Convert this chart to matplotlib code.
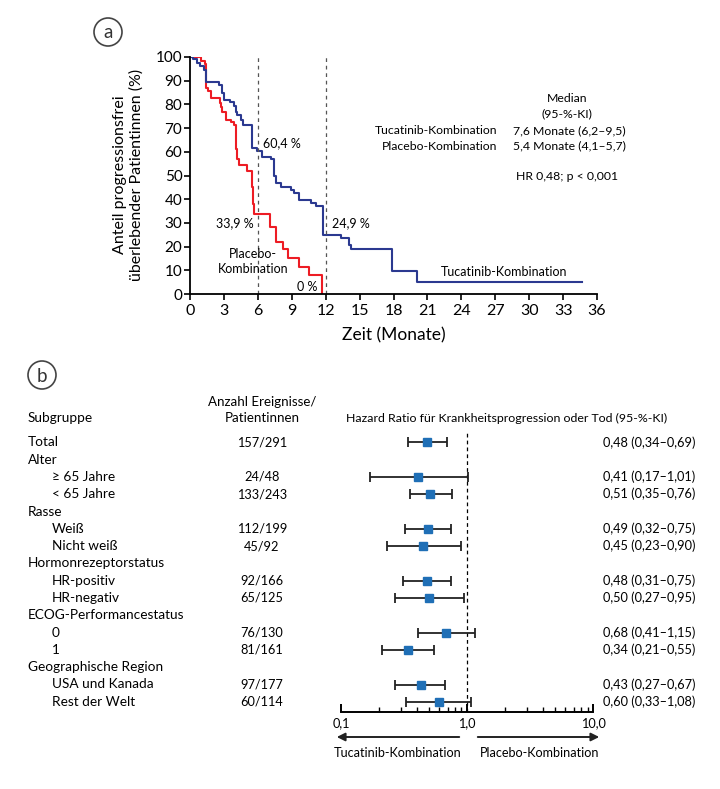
import matplotlib
matplotlib.use("Agg")
import matplotlib.pyplot as plt
from matplotlib.patches import FancyArrowPatch
from matplotlib.transforms import blended_transform_factory

plt.rcParams['font.family'] = ['Lato', 'DejaVu Sans']

W, H = 720, 789
BLUE = '#2b3990'
RED = '#ed1c24'
SQ = '#1f6fb6'

# ---------------- Panel a: Kaplan-Meier data ----------------
tuc_t = [0, 0.3, 0.6, 0.9, 1.2, 1.4, 2.6, 2.8, 3.0, 3.5, 3.9, 4.1, 4.2, 4.5, 4.65, 5.45, 5.5,
         5.9, 6.4, 7.2, 7.45, 7.6, 8.05, 8.9, 9.2, 9.65, 10.7, 11.15, 11.75, 13.4, 14.1, 14.25,
         17.9, 20.1, 34.7]
tuc_s = [100, 99, 97.5, 96, 94.5, 89.6, 88, 85, 82, 81, 79.5, 77, 75.5, 73.5, 71.3, 65, 61.5,
         60.4, 58, 56.8, 50, 46.7, 45.3, 43.9, 42.7, 39.7, 38.5, 37.1, 24.9, 23.5, 20.7, 19,
         9.8, 4.9, 4.9]
pla_t = [0, 1.0, 1.3, 1.4, 1.6, 1.9, 2.65, 2.75, 2.85, 3.2, 3.6, 3.9, 4.05, 4.15, 4.3, 5.05,
         5.5, 5.6, 5.7, 7.1, 7.6, 8.2, 8.7, 9.65, 10.55, 11.7]
pla_s = [100, 98.5, 97, 86.8, 85.5, 82.6, 80.5, 79, 77, 73.4, 72.7, 71.3, 61, 57, 54.4, 52,
         45, 38, 33.9, 28.1, 22, 18.8, 15, 11.2, 8, 0]
x_ticks = list(range(0, 37, 3))
y_ticks = list(range(0, 101, 10))
landmarks = [6, 12]

# ---------------- Panel b: forest data ----------------
rows = ["Total", "Alter", "≥ 65 Jahre", "< 65 Jahre", "Rasse", "Weiß", "Nicht weiß",
        "Hormonrezeptorstatus", "HR-positiv", "HR-negativ", "ECOG-Performancestatus",
        "0", "1", "Geographische Region", "USA und Kanada", "Rest der Welt"]
indent = [0, 0, 1, 1, 0, 1, 1, 0, 1, 1, 0, 1, 1, 0, 1, 1]
counts = ["157/291", "", "24/48", "133/243", "", "112/199", "45/92", "", "92/166", "65/125",
          "", "76/130", "81/161", "", "97/177", "60/114"]
hr = [0.48, None, 0.41, 0.51, None, 0.49, 0.45, None, 0.48, 0.50, None, 0.68, 0.34, None, 0.43, 0.60]
lo = [0.34, None, 0.17, 0.35, None, 0.32, 0.23, None, 0.31, 0.27, None, 0.41, 0.21, None, 0.27, 0.33]
hi = [0.69, None, 1.01, 0.76, None, 0.75, 0.90, None, 0.75, 0.95, None, 1.15, 0.55, None, 0.67, 1.08]
hr_labels = ["0,48 (0,34–0,69)", "", "0,41 (0,17–1,01)", "0,51 (0,35–0,76)", "",
             "0,49 (0,32–0,75)", "0,45 (0,23–0,90)", "", "0,48 (0,31–0,75)", "0,50 (0,27–0,95)",
             "", "0,68 (0,41–1,15)", "0,34 (0,21–0,55)", "", "0,43 (0,27–0,67)", "0,60 (0,33–1,08)"]
hr_ticks = [0.1, 1.0, 10.0]
hr_ticklabels = ["0,1", "1,0", "10,0"]

fig = plt.figure(figsize=(W / 100, H / 100), dpi=100)

def fx(x):
    return x / W

def fy(y):
    return 1 - y / H

# ---- panel a axes ----
axa = fig.add_axes([fx(190), fy(294), (597 - 190) / W, (294 - 57) / H])
axa.step(pla_t, pla_s, where='post', color=RED, lw=1.5)
axa.step(tuc_t, tuc_s, where='post', color=BLUE, lw=1.5)
for lm in landmarks:
    axa.axvline(lm, color='#555555', lw=0.9, ls=(0, (3, 3)))
axa.set_xlim(0, 36)
axa.set_ylim(0, 100)
axa.set_xticks(x_ticks)
axa.set_yticks(y_ticks)
axa.tick_params(axis='y', labelsize=11, length=4, width=1.2, pad=1.5)
axa.tick_params(axis='x', labelsize=11.5, length=4, width=1.2, pad=3)
for s in ['top', 'right']:
    axa.spines[s].set_visible(False)
for s in ['left', 'bottom']:
    axa.spines[s].set_linewidth(1.3)
axa.set_xlabel("Zeit (Monate)", fontsize=12.5, labelpad=7)

fig.text(fx(128), fy(175), "Anteil progressionsfrei\nüberlebender Patientinnen (%)",
         rotation=90, ha='center', va='center', fontsize=11.5, multialignment='center',
         linespacing=1.2)

fs_a = 9.0
axa.text(6.5, 63.5, "60,4 %", fontsize=fs_a, ha='left', va='center')
axa.text(5.6, 30.0, "33,9 %", fontsize=fs_a, ha='right', va='center')
axa.text(12.6, 29.7, "24,9 %", fontsize=fs_a, ha='left', va='center')
axa.text(5.6, 13.8, "Placebo-\nKombination", fontsize=fs_a, ha='center', va='center',
         linespacing=1.3)
axa.text(11.3, 3.1, "0 %", fontsize=fs_a, ha='right', va='center')
axa.text(27.8, 9.4, "Tucatinib-Kombination", fontsize=fs_a, ha='center', va='center')

fs_m = 8.8
fig.text(fx(567), fy(98), "Median", fontsize=fs_m, ha='center', va='center')
fig.text(fx(567), fy(113.5), "(95-%-KI)", fontsize=fs_m, ha='center', va='center')
fig.text(fx(497), fy(131), "Tucatinib-Kombination", fontsize=fs_m, ha='right', va='center')
fig.text(fx(513), fy(131), "7,6 Monate (6,2–9,5)", fontsize=fs_m, ha='left', va='center')
fig.text(fx(497), fy(146), "Placebo-Kombination", fontsize=fs_m, ha='right', va='center')
fig.text(fx(513), fy(146), "5,4 Monate (4,1–5,7)", fontsize=fs_m, ha='left', va='center')
fig.text(fx(567), fy(176), "HR 0,48; p < 0,001", fontsize=fs_m, ha='center', va='center')

# circled panel letters
for (cx, cy, letter) in [(108, 32, 'a'), (42, 375, 'b')]:
    circ = plt.Circle((cx, H - cy), 14, transform=None, fill=False, edgecolor='#444444', lw=1.2)
    fig.patches.append(circ)
    fig.text(fx(cx), fy(cy + 1), letter, fontsize=13.5, ha='center', va='center', color='#333333')

# ---- panel b forest axes ----
row0 = 442.3
dy = 17.3
ax_top_px, ax_bot_px = 425.0, 711.7
y_top = (ax_top_px - row0) / dy
y_bot = (ax_bot_px - row0) / dy
axb = fig.add_axes([fx(341), fy(ax_bot_px), (593.3 - 341) / W, (ax_bot_px - ax_top_px) / H])
axb.set_xscale('log')
axb.set_xlim(0.1, 10)
axb.set_ylim(y_bot, y_top)
for s in ['top', 'right', 'left']:
    axb.spines[s].set_visible(False)
axb.spines['bottom'].set_linewidth(1.4)
axb.set_yticks([])
axb.set_xticks(hr_ticks)
axb.set_xticklabels(hr_ticklabels)
axb.tick_params(axis='x', which='major', direction='in', length=6, width=1.4, labelsize=9.2, pad=4)
axb.tick_params(axis='x', which='minor', direction='in', length=3.5, width=1.0)
axb.plot([1, 1], [y_bot, (433 - row0) / dy], color='black', lw=0.9, ls=(0, (3, 2.5)))

for i in range(len(rows)):
    if hr[i] is None:
        continue
    axb.errorbar(hr[i], i, xerr=[[hr[i] - lo[i]], [hi[i] - hr[i]]], fmt='none',
                 ecolor='#222222', elinewidth=1.3, capsize=3.7, capthick=1.3)
    axb.plot(hr[i], i, marker='s', ms=5.5, color=SQ, mec=SQ, zorder=5)

tb = blended_transform_factory(fig.transFigure, axb.transData)
fs_w = 9.8
fs_n = 9.2
for i, name in enumerate(rows):
    axb.text(fx(28 + 24 * indent[i]), i, name, transform=tb, fontsize=fs_w, ha='left',
             va='center', clip_on=False)
    if counts[i]:
        axb.text(fx(262), i, counts[i], transform=tb, fontsize=fs_n, ha='center', va='center',
                 clip_on=False)
    if hr_labels[i]:
        axb.text(fx(603), i, hr_labels[i], transform=tb, fontsize=fs_n, ha='left', va='center',
                 clip_on=False)

fig.text(fx(28), fy(418), "Subgruppe", fontsize=fs_w, ha='left', va='center')
fig.text(fx(262), fy(410), "Anzahl Ereignisse/\nPatientinnen", fontsize=9.6, ha='center',
         va='center', linespacing=1.3)
fig.text(fx(346), fy(418), "Hazard Ratio für Krankheitsprogression oder Tod (95-%-KI)",
         fontsize=8.9, ha='left', va='center')

# direction arrows
arrow_y = fy(737)
fig.add_artist(FancyArrowPatch((fx(462), arrow_y), (fx(334), arrow_y),
               transform=fig.transFigure, arrowstyle='-|>', mutation_scale=12, lw=1.4,
               color='#222222'))
fig.add_artist(FancyArrowPatch((fx(475), arrow_y), (fx(602), arrow_y),
               transform=fig.transFigure, arrowstyle='-|>', mutation_scale=12, lw=1.4,
               color='#222222'))
fig.text(fx(398), fy(753), "Tucatinib-Kombination", fontsize=9.1, ha='center', va='center')
fig.text(fx(540), fy(753), "Placebo-Kombination", fontsize=9.1, ha='center', va='center')

fig.savefig("out.png", dpi=100)
